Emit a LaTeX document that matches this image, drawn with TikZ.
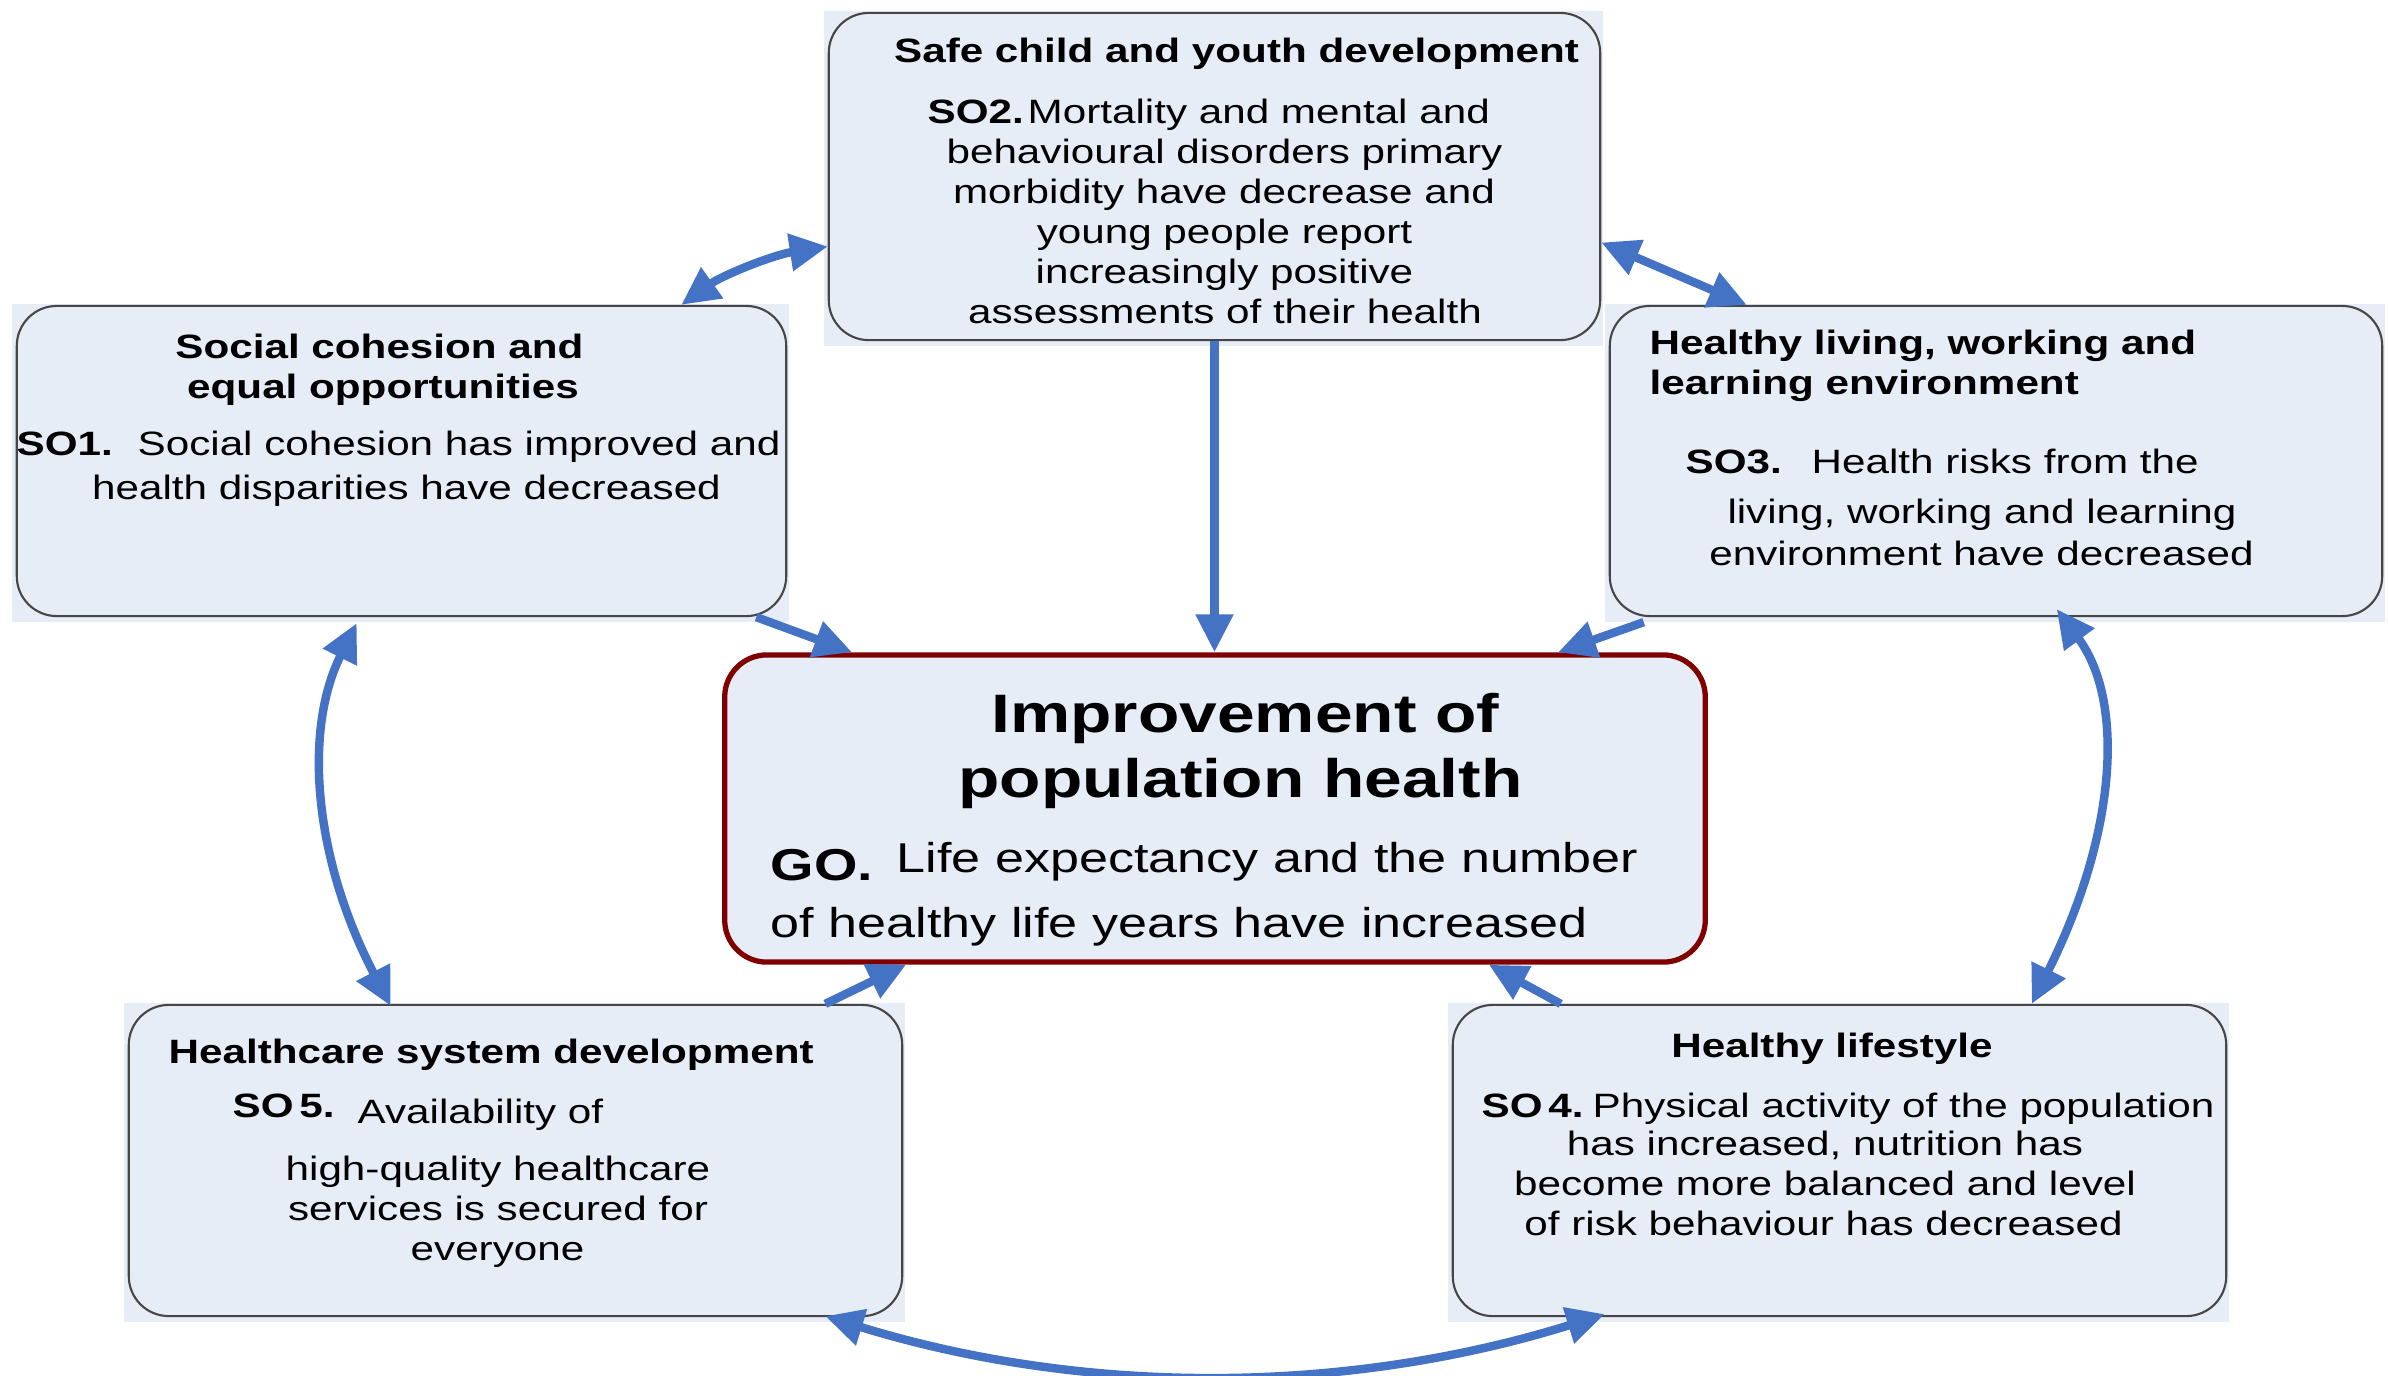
\documentclass[tikz,border=0pt]{standalone}
\usepackage{fontspec}
\setmainfont{Liberation Sans}[FakeStretch=1.25]
\usetikzlibrary{arrows.meta,calc,backgrounds}
\definecolor{boxfill}{RGB}{231,237,247}
\definecolor{boxline}{RGB}{70,70,70}
\definecolor{gored}{RGB}{128,0,0}
\definecolor{arrowblue}{RGB}{68,114,196}
\begin{document}
\begin{tikzpicture}[x=0.01cm,y=-0.01cm,
  sobox/.style={draw=boxline, line width=0.6pt, fill=boxfill, rounded corners=0.4cm, inner sep=0pt},
  gobox/.style={draw=gored, line width=1.5pt, fill=boxfill, rounded corners=0.42cm, inner sep=0pt},
  ttl/.style={inner sep=0pt, font=\bfseries\fontsize{9.6}{11}\selectfont},
  bdy/.style={inner sep=0pt, font=\fontsize{9.6}{11}\selectfont},
  gottl/.style={inner sep=0pt, font=\bfseries\fontsize{15.4}{17}\selectfont},
  gokey/.style={inner sep=0pt, font=\bfseries\fontsize{12.7}{14}\selectfont},
  gobdy/.style={inner sep=0pt, font=\fontsize{11.85}{14}\selectfont},
  link/.style={draw=arrowblue, line width=2.4pt, -{Triangle[length=0.38cm,width=0.36cm]}},
  twoway/.style={draw=arrowblue, line width=2.4pt, {Triangle[length=0.38cm,width=0.36cm]}-{Triangle[length=0.38cm,width=0.36cm]}},
]
\useasboundingbox (0,0) rectangle (2390,1375);

% boxes
\node[sobox, minimum width=7.71cm, minimum height=3.27cm] (so2) at (1214.5,176.5) {};
\node[sobox, minimum width=7.69cm, minimum height=3.10cm] (so1) at (401.5,461) {};
\node[sobox, minimum width=7.72cm, minimum height=3.10cm] (so3) at (1996,461) {};
\node[gobox, minimum width=9.80cm, minimum height=3.07cm] (go) at (1215,808.5) {};
\node[sobox, minimum width=7.73cm, minimum height=3.11cm] (so5) at (515.5,1160.5) {};
\node[sobox, minimum width=7.73cm, minimum height=3.11cm] (so4) at (1839.5,1160.5) {};

\begin{scope}[on background layer]
  \foreach \n in {so1,so2,so3,so4,so5}
    \fill[boxfill] ($(\n.south west)+(-4,5)$) rectangle ($(\n.north east)+(2,-1)$);
\end{scope}

% SO2 text
\node[ttl, anchor=base] (t2) at (1236.5,62) {Safe child and youth development};
\node[ttl, anchor=base west] (k2) at (927,123) {SO2.};
\node[bdy, anchor=base west] (b2a) at (1027,123) {Mortality and mental and};
\node[bdy, anchor=base] (b2b) at (1224.5,163) {behavioural disorders primary};
\node[bdy, anchor=base] (b2c) at (1224,203) {morbidity have decrease and};
\node[bdy, anchor=base] (b2d) at (1224.5,243) {young people report};
\node[bdy, anchor=base] (b2e) at (1224.5,283) {increasingly positive};
\node[bdy, anchor=base] (b2f) at (1225,323) {assessments of their health};

% SO1 text
\node[ttl, anchor=base] (t1a) at (379.5,358) {Social cohesion and};
\node[ttl, anchor=base] (t1b) at (383,398) {equal opportunities};
\node[ttl, anchor=base west] (k1) at (16,455) {SO1.};
\node[bdy, anchor=base west] (b1a) at (137,455) {Social cohesion has improved and};
\node[bdy, anchor=base] (b1b) at (406.5,499) {health disparities have decreased};

% SO3 text
\node[ttl, anchor=base west] (t3a) at (1649,354) {Healthy living, working and};
\node[ttl, anchor=base west] (t3b) at (1649,394) {learning environment};
\node[ttl, anchor=base west] (k3) at (1685,473) {SO3.};
\node[bdy, anchor=base west] (b3a) at (1811,473) {Health risks from the};
\node[bdy, anchor=base] (b3b) at (1982,523) {living, working and learning};
\node[bdy, anchor=base] (b3c) at (1981.5,565) {environment have decreased};

% GO text
\node[gottl, anchor=base] (tga) at (1245.5,732) {Improvement of};
\node[gottl, anchor=base] (tgb) at (1240.5,797) {population health};
\node[gokey, anchor=base west] (kg) at (770,880) {GO.};
\node[gobdy, anchor=base west] (bga) at (896,872) {Life expectancy and the number};
\node[gobdy, anchor=base west] (bgb) at (770,937) {of healthy life years have increased};

% SO5 text
\node[ttl, anchor=base west] (t5) at (168,1063) {Healthcare system development};
\node[ttl, anchor=base west] (k5) at (232,1117) {SO\,5.};
\node[bdy, anchor=base west] (b5a) at (357,1123) {Availability of};
\node[bdy, anchor=base] (b5b) at (498,1180) {high-quality healthcare};
\node[bdy, anchor=base] (b5c) at (498,1220) {services is secured for};
\node[bdy, anchor=base] (b5d) at (497.5,1260) {everyone};

% SO4 text
\node[ttl, anchor=base] (t4) at (1832,1057) {Healthy lifestyle};
\node[ttl, anchor=base west] (k4) at (1481,1117) {SO\,4.};
\node[bdy, anchor=base west] (b4a) at (1592,1117) {Physical activity of the population};
\node[bdy, anchor=base] (b4b) at (1825,1155) {has increased, nutrition has};
\node[bdy, anchor=base] (b4c) at (1825,1195) {become more balanced and level};
\node[bdy, anchor=base] (b4d) at (1823.5,1235) {of risk behaviour has decreased};

% connectors
\draw[twoway] ($(so1.north east)+(-106,0)$) .. controls (723,275) and (773,255) .. ($(so2.west)+(0,70)$);
\draw[twoway] ($(so2.east)+(0,66)$) -- ($(so3.north west)+(138,0)$);
\draw[link] (so2.south) -- (so2.south |- go.north);
\draw[link] ($(so1.south east)+(-31,0)$) -- ($(go.north west)+(130,0)$);
\draw[link] ($(so3.south west)+(35,5)$) -- ($(go.north west)+(836,0)$);
\draw[link] ($(so5.north east)+(-78,0)$) -- ($(go.south west)+(184,0)$);
\draw[link] ($(so4.north west)+(109,0)$) -- ($(go.south east)+(-219,0)$);
\draw[twoway] ($(so1.south west)+(341,6)$) .. controls (303,731) and (314,859) .. ($(so5.north west)+(263,2)$);
\draw[twoway] ($(so3.south west)+(448,-8)$) .. controls (2125,701) and (2117,833) .. ($(so4.north west)+(580,0)$);
\draw[twoway] ($(so5.south east)+(-78,-1)$) .. controls (1085,1396) and (1345,1395) .. ($(so4.south west)+(153,-3)$);
\end{tikzpicture}
\end{document}
